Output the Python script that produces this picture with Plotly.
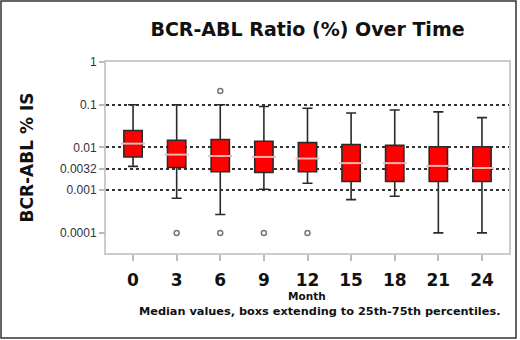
import plotly.graph_objects as go

months = ["0", "3", "6", "9", "12", "15", "18", "21", "24"]
upper_whisker = [0.10, 0.10, 0.10, 0.091, 0.083, 0.064, 0.075, 0.068, 0.050]
q3_values = [0.025, 0.0148, 0.0154, 0.014, 0.013, 0.0117, 0.0112, 0.0104, 0.0104]
median_values = [0.0123, 0.0068, 0.0063, 0.0060, 0.0055, 0.0043, 0.0043, 0.0037, 0.0033]
q1_values = [0.0060, 0.0034, 0.0027, 0.0026, 0.0027, 0.0016, 0.0016, 0.0016, 0.0016]
lower_whisker = [0.0036, 0.00065, 0.00027, 0.00105, 0.00145, 0.0006, 0.00072, 0.0001, 0.0001]

outlier_months = ["3", "6", "6", "9", "12"]
outlier_values = [0.0001, 0.21, 0.0001, 0.0001, 0.0001]

grid_vals = [0.1, 0.01, 0.0032, 0.001]
tick_vals = [1, 0.1, 0.01, 0.0032, 0.001, 0.0001]
tick_text = ["1", "0.1", "0.01", "0.0032", "0.001", "0.0001"]

L, R, T, B = 106, 509, 62, 253
PW, PH = R - L, B - T

fig = go.Figure()
fig.add_trace(go.Box(
    x=months, q1=q1_values, median=median_values, q3=q3_values,
    lowerfence=lower_whisker, upperfence=upper_whisker,
    boxpoints=False, width=0.42, whiskerwidth=0.55,
    fillcolor="#ff0000", line=dict(color="#2a2a2a", width=1.6),
    showlegend=False, hoverinfo="skip",
))
fig.add_trace(go.Scatter(
    x=months, y=median_values, mode="markers",
    marker=dict(symbol="line-ew", size=17, line=dict(color="#ffb0b0", width=2)),
    showlegend=False, hoverinfo="skip",
))
fig.add_trace(go.Scatter(
    x=outlier_months, y=outlier_values, mode="markers",
    marker=dict(symbol="circle-open", size=5, color="#777777", line=dict(width=1.5)),
    showlegend=False, hoverinfo="skip",
))
fig.add_trace(go.Scatter(x=[months[0]], y=[tick_vals[0]], yaxis="y2", mode="markers",
                         marker=dict(opacity=0), showlegend=False, hoverinfo="skip"))

fig.update_layout(
    width=520, height=340,
    margin=dict(l=L, r=520 - R, t=T, b=340 - B, autoexpand=False),
    paper_bgcolor="white", plot_bgcolor="white",
    title=dict(text="BCR-ABL Ratio (%) Over Time", x=(L + R) / 2 / 520, xanchor="center",
               y=1 - 29 / 340, yanchor="middle", automargin=False,
               font=dict(family="DejaVu Sans", size=19, color="#111111", weight="bold")),
    xaxis=dict(type="category", range=[-0.62, 8.62], showgrid=False, automargin=False,
               showline=True, linecolor="#cccccc", linewidth=1.5, mirror=True,
               ticks="outside", ticklen=6, tickcolor="#bbbbbb", tickwidth=1.5,
               ticklabelstandoff=5,
               tickfont=dict(family="DejaVu Sans", size=17, color="#111111", weight="bold")),
    yaxis=dict(type="log", range=[-4.47, 0], tickvals=grid_vals, showticklabels=False,
               showgrid=True, gridcolor="#333333", gridwidth=2, griddash="dot",
               showline=True, linecolor="#cccccc", linewidth=1.5, mirror=True,
               zeroline=False, ticks="", automargin=False),
    yaxis2=dict(type="log", range=[-4.47, 0], overlaying="y", side="left", automargin=False,
                tickvals=tick_vals, ticktext=tick_text, showgrid=False, zeroline=False,
                ticks="outside", ticklen=6, tickcolor="#bbbbbb", tickwidth=1.5,
                tickfont=dict(family="Liberation Sans", size=12, color="#333333")),
    shapes=[dict(type="rect", xref="paper", yref="paper",
                 x0=(1 - L) / PW, x1=(516 - L) / PW,
                 y0=(B - 338) / PH, y1=(B - 1) / PH,
                 line=dict(color="#333333", width=1.5), fillcolor="rgba(0,0,0,0)", layer="below")],
    annotations=[
        dict(text="BCR-ABL % IS", xref="paper", yref="paper",
             x=(26 - L) / PW, y=0.5, xanchor="center", yanchor="middle", textangle=-90,
             showarrow=False,
             font=dict(family="DejaVu Sans", size=17, color="#111111", weight="bold")),
        dict(text="Month", xref="paper", yref="paper", borderpad=0,
             x=(307 - L) / PW, y=(B - 296) / PH, xanchor="center", yanchor="middle",
             showarrow=False,
             font=dict(family="DejaVu Sans", size=10.5, color="#111111", weight="bold")),
        dict(text="Median values, boxs extending to 25th-75th percentiles.", borderpad=0,
             xref="paper", yref="paper", x=(319 - L) / PW, y=(B - 311) / PH,
             xanchor="center", yanchor="middle", showarrow=False,
             font=dict(family="DejaVu Sans", size=11.3, color="#111111", weight="bold")),
    ],
)

fig.write_html("out.html", config={"displayModeBar": False},
               post_script="document.body.style.margin='0px';")
